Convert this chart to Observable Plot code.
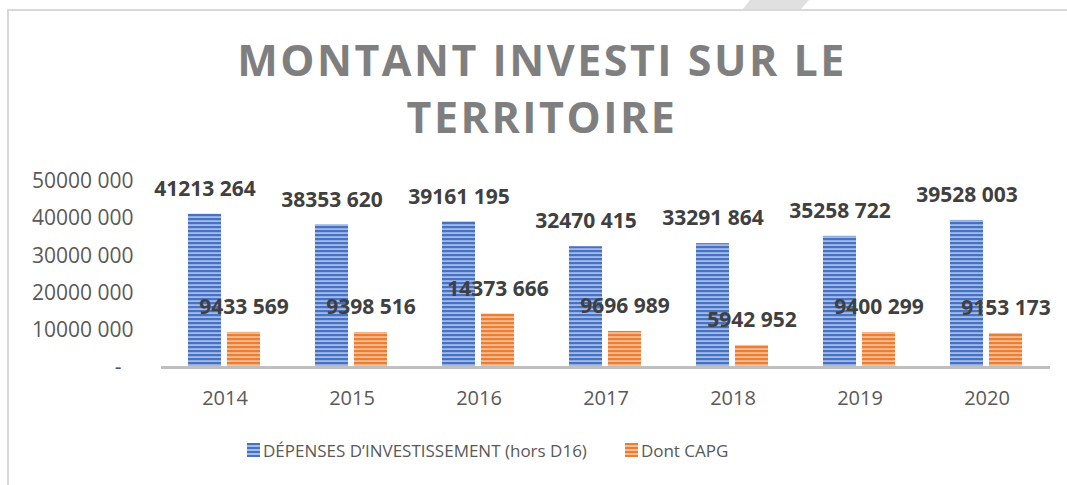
<!DOCTYPE html>
<html>
<head>
<meta charset="utf-8">
<script src="https://cdn.jsdelivr.net/npm/d3@7"></script>
<script src="https://cdn.jsdelivr.net/npm/@observablehq/plot@0.6"></script>
<style>
  html, body { margin: 0; padding: 0; background: #fff; }
  #root { position: relative; width: 1067px; height: 485px; overflow: hidden; font-family: "Open Sans", sans-serif; }
  .frame-left { position: absolute; left: 7px; top: 9px; width: 2px; height: 476px; background: #d9d9d9; }
  .frame-top { position: absolute; left: 7px; top: 9px; width: 1060px; height: 2px; background: #d9d9d9; }
  .tab { position: absolute; left: 743px; top: 0; width: 67px; height: 9px; background: #e0e0e0;
         clip-path: polygon(7px 0, 66px 0, 58px 9px, 0 9px); }
  #title { position: absolute; left: 0; top: 31px; width: 1084px; text-align: center;
           font-weight: 700; font-size: 43px; line-height: 57px; letter-spacing: 2.5px; color: #7f7f7f; }
  #chart { position: absolute; left: 0; top: 150px; }
  #legend { position: absolute; left: 247px; top: 438px; display: flex; align-items: center; height: 24px;
            font-size: 17px; color: #595959; }
  .sw { width: 13px; height: 14px; display: inline-block; margin-right: 3px; }
  .sw.blue { background: repeating-linear-gradient(to bottom, #4472c4 0 2px, #a5bbe6 2px 4px); }
  .sw.orange { background: repeating-linear-gradient(to bottom, #ed7d31 0 2px, #f6be98 2px 4px); }
  .item { display: flex; align-items: center; }
</style>
</head>
<body>
<div id="root">
  <div class="frame-left"></div>
  <div class="frame-top"></div>
  <div class="tab"></div>
  <div id="title">MONTANT INVESTI SUR LE<br>TERRITOIRE</div>
  <div id="chart"></div>
  <div id="legend">
    <div class="item"><span class="sw blue"></span><span>DÉPENSES D’INVESTISSEMENT (hors D16)</span></div>
    <div class="item" style="margin-left:38px"><span class="sw orange"></span><span>Dont CAPG</span></div>
  </div>
</div>
<script>
const years = ["2014", "2015", "2016", "2017", "2018", "2019", "2020"];
const seriesNames = ["DÉPENSES D’INVESTISSEMENT (hors D16)", "Dont CAPG"];
const depenses = [41213264, 38353620, 39161195, 32470415, 33291864, 35258722, 39528003];
const capg = [9433569, 9398516, 14373666, 9696989, 5942952, 9400299, 9153173];
const yTicks = [0, 10000000, 20000000, 30000000, 40000000, 50000000];
const yTickLabels = ["-\u2007", "10000 000", "20000 000", "30000 000", "40000 000", "50000 000"];

const rows = [];
years.forEach((y, i) => {
  rows.push({year: y, series: seriesNames[0], value: depenses[i]});
  rows.push({year: y, series: seriesNames[1], value: capg[i]});
});

const fmt = n => `${Math.floor(n / 1000)} ${String(n % 1000).padStart(3, "0")}`;

const svg = Plot.plot({
  width: 1067,
  height: 270,
  marginLeft: 160,
  marginRight: 17,
  marginTop: 31,
  marginBottom: 53,
  fx: {domain: years, padding: 0, label: null},
  x: {domain: seriesNames, paddingInner: 0.15, paddingOuter: 0.69, axis: null},
  y: {domain: [0, 50000000], axis: null},
  color: {domain: seriesNames, range: ["url(#blueStripes)", "url(#orangeStripes)"]},
  style: {fontFamily: "Open Sans", fontSize: "20px", color: "#595959", background: "transparent", overflow: "visible"},
  marks: [
    Plot.barY(rows, {fx: "year", x: "series", y: "value", fill: "series"}),
    Plot.ruleY([0], {stroke: "#bfbfbf", strokeWidth: 3}),
    Plot.text(rows, {fx: "year", x: "series", y: "value", text: d => fmt(d.value), dy: -25,
      fontWeight: "bold", fontSize: 21, fill: "#404040"}),
    Plot.axisY(yTicks, {tickSize: 0, tickPadding: 28, fontSize: 21, fill: "#595959", label: null,
      tickFormat: d => yTickLabels[yTicks.indexOf(d)]}),
    Plot.axisFx({anchor: "bottom", tickSize: 0, tickPadding: 23, fontSize: 20, fill: "#595959", label: null})
  ]
});

const defs = d3.select(svg).insert("defs", ":first-child");
function stripe(id, dark, light) {
  const p = defs.append("pattern").attr("id", id).attr("patternUnits", "userSpaceOnUse")
    .attr("width", 4).attr("height", 4);
  p.append("rect").attr("width", 4).attr("height", 4).attr("fill", light);
  p.append("rect").attr("width", 4).attr("height", 2.2).attr("fill", dark);
}
stripe("blueStripes", "#4472c4", "#a5bbe6");
stripe("orangeStripes", "#ed7d31", "#f6be98");

document.getElementById("chart").appendChild(svg);
</script>
</body>
</html>
